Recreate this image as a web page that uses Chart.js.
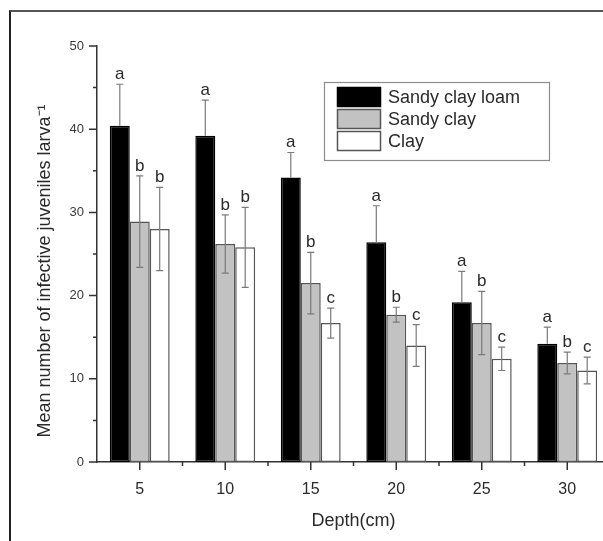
<!DOCTYPE html>
<html>
<head>
<meta charset="utf-8">
<script src="https://cdn.jsdelivr.net/npm/chart.js@4.4.0/dist/chart.umd.min.js"></script>
<style>
  html, body { margin: 0; padding: 0; background: #fff; overflow: hidden; }
  #wrap { position: relative; width: 603px; height: 541px; overflow: hidden; }
  #depthChart { position: absolute; left: 0; top: 0; }
  #frame { position: absolute; left: 9px; top: 10px; width: 700px; height: 700px;
           border-top: 2px solid #555; border-left: 2px solid #222; pointer-events: none; }
</style>
</head>
<body>
<div id="wrap">
  <canvas id="depthChart" width="620" height="541"></canvas>
  <div id="frame"></div>
</div>
<script>
// --- Data ---
const depths = ['5', '10', '15', '20', '25', '30'];

const sandyClayLoam = [40.4, 39.2, 34.2, 26.4, 19.2, 14.2];
const sandyClay     = [28.9, 26.2, 21.5, 17.7, 16.7, 11.9];
const clay          = [28.0, 25.8, 16.7, 14.0, 12.4, 11.0];

const sandyClayLoamErr = [5.0, 4.3, 3.0, 4.4, 3.7, 2.0];
const sandyClayErr     = [5.5, 3.5, 3.7, 0.9, 3.8, 1.3];
const clayErr          = [5.0, 4.8, 1.8, 2.5, 1.4, 1.6];

const sandyClayLoamLetters = ['a', 'a', 'a', 'a', 'a', 'a'];
const sandyClayLetters     = ['b', 'b', 'b', 'b', 'b', 'b'];
const clayLetters          = ['b', 'b', 'c', 'c', 'c', 'c'];

const yTicks = [0, 10, 20, 30, 40, 50];
const yMinorTicks = [5, 15, 25, 35, 45];

const FONT = '"Liberation Sans", Arial, Helvetica, sans-serif';
Chart.defaults.font.family = FONT;

// --- Error bars + significance letters ---
const errorBars = {
    id: 'errorBars',
    afterDatasetsDraw(chart) {
        const ctx = chart.ctx;
        const y = chart.scales.y;
        chart.data.datasets.forEach((ds, i) => {
            chart.getDatasetMeta(i).data.forEach((bar, j) => {
                const v = ds.data[j], e = ds.errors[j];
                const yTop = y.getPixelForValue(v + e);
                const yLow = ds.lowerWhisker ? y.getPixelForValue(v - e) : bar.y;
                ctx.save();
                ctx.strokeStyle = '#7a7a7a';
                ctx.lineWidth = 1.2;
                ctx.beginPath();
                ctx.moveTo(bar.x, yLow);
                ctx.lineTo(bar.x, yTop);
                ctx.moveTo(bar.x - 3.5, yTop);
                ctx.lineTo(bar.x + 3.5, yTop);
                if (ds.lowerWhisker) {
                    ctx.moveTo(bar.x - 3.5, yLow);
                    ctx.lineTo(bar.x + 3.5, yLow);
                }
                ctx.stroke();
                ctx.fillStyle = '#2a2a2a';
                ctx.font = '17px ' + FONT;
                ctx.textAlign = 'center';
                ctx.textBaseline = 'alphabetic';
                ctx.fillText(ds.letters[j], bar.x, yTop - 5);
                ctx.restore();
            });
        });
    }
};

// --- Axis ticks (major + minor), y title, legend box ---
const decorations = {
    id: 'decorations',
    afterDraw(chart) {
        const ctx = chart.ctx;
        const x = chart.scales.x, y = chart.scales.y;
        const area = chart.chartArea;
        ctx.save();
        ctx.strokeStyle = '#333';
        ctx.lineWidth = 1.5;
        ctx.beginPath();
        yTicks.forEach(v => {
            const py = y.getPixelForValue(v);
            ctx.moveTo(area.left - 8, py); ctx.lineTo(area.left, py);
        });
        yMinorTicks.forEach(v => {
            const py = y.getPixelForValue(v);
            ctx.moveTo(area.left - 4, py); ctx.lineTo(area.left, py);
        });
        const n = depths.length;
        for (let j = 0; j < n; j++) {
            const px = x.getPixelForTick(j);
            ctx.moveTo(px, area.bottom); ctx.lineTo(px, area.bottom + 8);
        }
        const step = (area.right - area.left) / n;
        for (let j = 1; j < n; j++) {
            const px = area.left + step * j;
            ctx.moveTo(px, area.bottom); ctx.lineTo(px, area.bottom + 4);
        }
        ctx.stroke();

        // y title
        ctx.save();
        ctx.translate(45, 271);
        ctx.rotate(-Math.PI / 2);
        ctx.fillStyle = '#2a2a2a';
        ctx.font = '18px ' + FONT;
        ctx.textAlign = 'center';
        ctx.textBaseline = 'middle';
        ctx.fillText('Mean number of infective juveniles larva\u207B\u00B9', 0, 0);
        ctx.restore();

        // legend
        ctx.strokeStyle = '#8c8c8c';
        ctx.lineWidth = 1.2;
        ctx.strokeRect(324.5, 82.5, 225, 78);
        chart.data.datasets.forEach((ds, i) => {
            const top = 87 + i * 22;
            ctx.fillStyle = ds.backgroundColor;
            ctx.fillRect(337, top, 44, 20);
            ctx.strokeStyle = ds.borderColor;
            ctx.lineWidth = 1.5;
            ctx.strokeRect(337.5, top + 0.5, 43, 19);
            ctx.fillStyle = '#2a2a2a';
            ctx.font = '18px ' + FONT;
            ctx.textAlign = 'left';
            ctx.textBaseline = 'middle';
            ctx.fillText(ds.label, 388, top + 11);
        });
        ctx.restore();
    }
};

const barStyle = { borderWidth: 1.5, borderSkipped: false };

new Chart(document.getElementById('depthChart'), {
    type: 'bar',
    data: {
        labels: depths,
        datasets: [
            Object.assign({ label: 'Sandy clay loam', data: sandyClayLoam, errors: sandyClayLoamErr,
                letters: sandyClayLoamLetters, lowerWhisker: false,
                backgroundColor: '#000000', borderColor: '#000000' }, barStyle),
            Object.assign({ label: 'Sandy clay', data: sandyClay, errors: sandyClayErr,
                letters: sandyClayLetters, lowerWhisker: true,
                backgroundColor: '#c2c2c2', borderColor: '#555555' }, barStyle),
            Object.assign({ label: 'Clay', data: clay, errors: clayErr,
                letters: clayLetters, lowerWhisker: true,
                backgroundColor: '#ffffff', borderColor: '#555555' }, barStyle)
        ]
    },
    options: {
        responsive: false,
        devicePixelRatio: 1,
        animation: false,
        layout: { padding: { left: 0, right: 10, top: 46, bottom: 0 } },
        datasets: { bar: { barPercentage: 1, categoryPercentage: 0.7 } },
        plugins: { legend: { display: false }, tooltip: { enabled: false } },
        scales: {
            x: {
                grid: { display: false, tickLength: 8 },
                border: { color: '#333', width: 1.5 },
                ticks: { color: '#2a2a2a', font: { size: 16 }, padding: 10 },
                title: { display: true, text: 'Depth(cm)', color: '#2a2a2a', font: { size: 18 },
                         padding: { top: 0, bottom: 9 } },
                afterFit: s => { s.height = 79; }
            },
            y: {
                min: 0, max: 50,
                grid: { display: false, tickLength: 8 },
                border: { color: '#333', width: 1.5 },
                ticks: { color: '#3a3a3a', font: { size: 13 }, padding: 5 },
                afterBuildTicks: s => { s.ticks = yTicks.map(v => ({ value: v })); },
                afterFit: s => { s.width = 97; }
            }
        }
    },
    plugins: [errorBars, decorations]
});
</script>
</body>
</html>
